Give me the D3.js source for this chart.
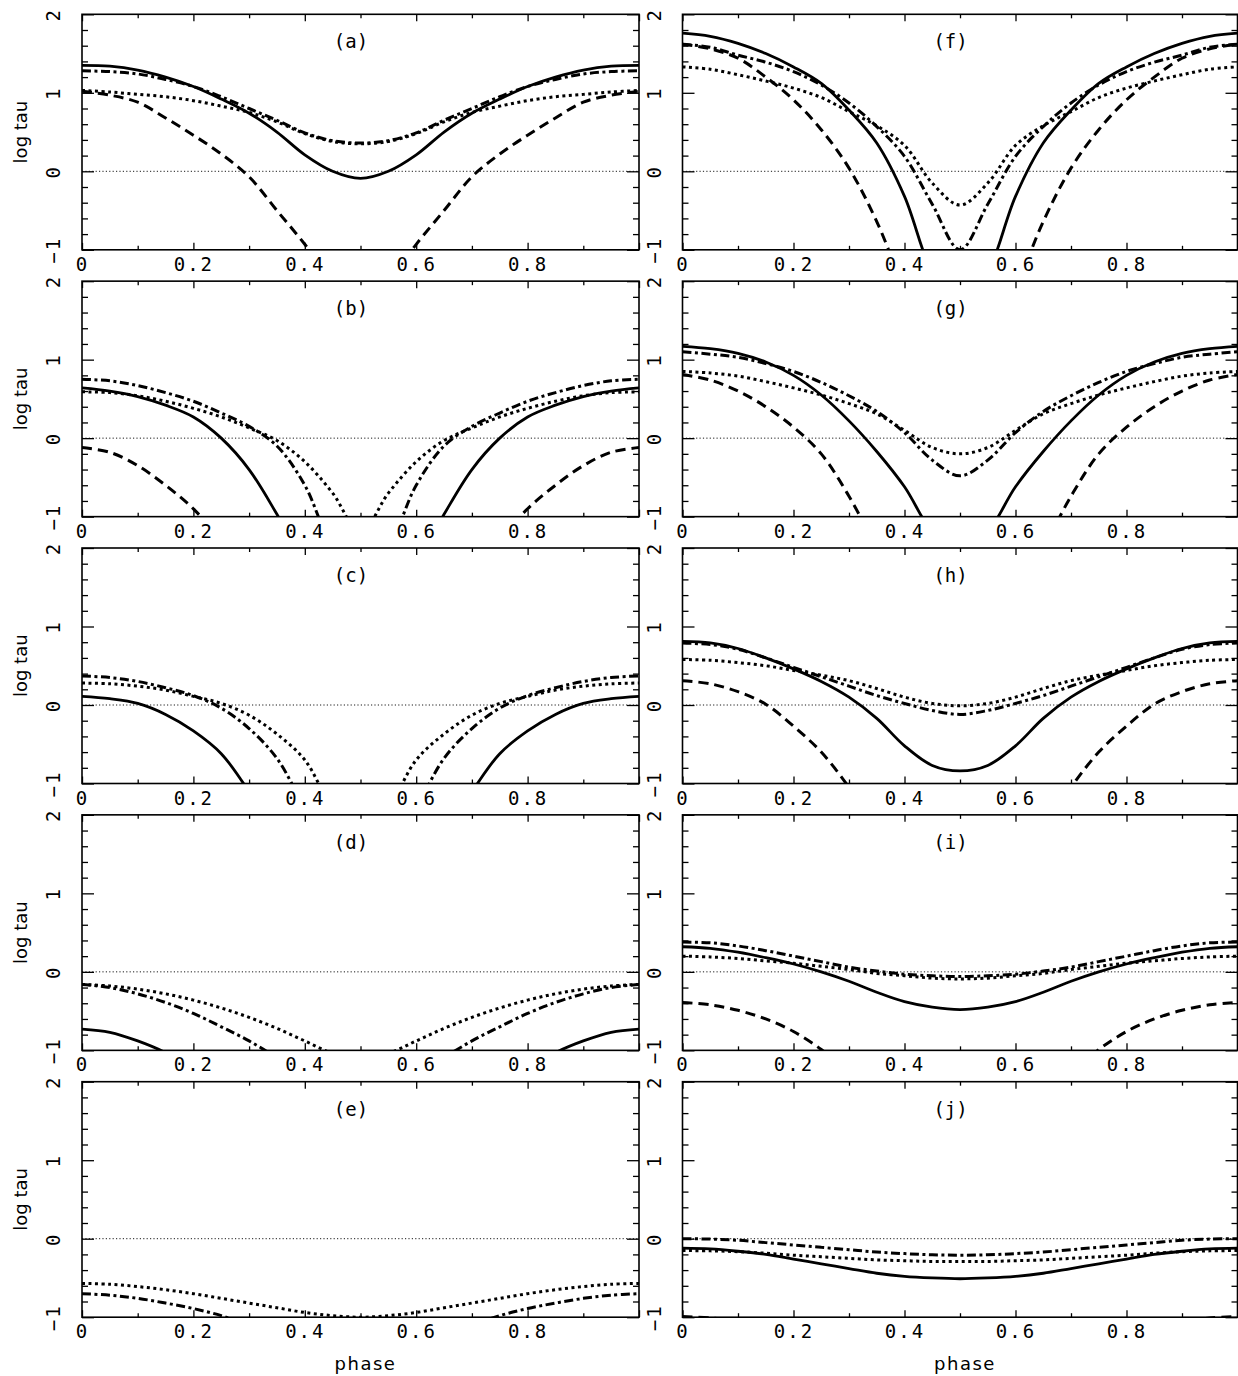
<!DOCTYPE html>
<html>
<head>
<meta charset="utf-8">
<script src="https://cdn.jsdelivr.net/npm/d3@7"></script>
<style>
  body { margin: 0; background: #fff; }
  svg { display: block; }
</style>
</head>
<body>
<svg id="canvas"></svg>
<script>
// phase grid shared by every curve
let phase = [0, 0.05, 0.1, 0.15, 0.2, 0.25, 0.3, 0.35, 0.4, 0.45, 0.5,
             0.55, 0.6, 0.65, 0.7, 0.75, 0.8, 0.85, 0.9, 0.95, 1];

// (a)
let a_solid   = [1.35, 1.34, 1.29, 1.2, 1.08, 0.92, 0.74, 0.5, 0.21, 0.0, -0.09, 0.0, 0.21, 0.5, 0.74, 0.92, 1.08, 1.2, 1.29, 1.34, 1.35];
let a_dash    = [1.02, 0.97, 0.88, 0.68, 0.46, 0.22, -0.07, -0.5, -0.93, -1.4, -1.6, -1.4, -0.93, -0.5, -0.07, 0.22, 0.46, 0.68, 0.88, 0.97, 1.02];
let a_dot     = [1.03, 1.01, 0.98, 0.95, 0.9, 0.83, 0.75, 0.63, 0.48, 0.38, 0.35, 0.38, 0.48, 0.63, 0.75, 0.83, 0.9, 0.95, 0.98, 1.01, 1.03];
let a_dashdot = [1.28, 1.27, 1.24, 1.17, 1.08, 0.95, 0.8, 0.65, 0.49, 0.39, 0.36, 0.39, 0.49, 0.65, 0.8, 0.95, 1.08, 1.17, 1.24, 1.27, 1.28];
// (b)
let b_solid   = [0.64, 0.6, 0.53, 0.42, 0.27, 0.0, -0.4, -0.97, -1.6, -2.2, -2.4, -2.2, -1.6, -0.97, -0.4, 0.0, 0.27, 0.42, 0.53, 0.6, 0.64];
let b_dash    = [-0.12, -0.18, -0.35, -0.6, -0.9, -1.3, -1.7, -2.0, -2.3, -2.5, -2.6, -2.5, -2.3, -2.0, -1.7, -1.3, -0.9, -0.6, -0.35, -0.18, -0.12];
let b_dot     = [0.59, 0.58, 0.54, 0.47, 0.38, 0.27, 0.13, -0.03, -0.3, -0.7, -1.2, -0.7, -0.3, -0.03, 0.13, 0.27, 0.38, 0.47, 0.54, 0.58, 0.59];
let b_dashdot = [0.75, 0.73, 0.67, 0.58, 0.47, 0.32, 0.15, -0.1, -0.6, -1.4, -1.8, -1.4, -0.6, -0.1, 0.15, 0.32, 0.47, 0.58, 0.67, 0.73, 0.75];
// (c)
let c_solid   = [0.11, 0.08, 0.02, -0.12, -0.33, -0.62, -1.1, -1.6, -2.0, -2.3, -2.4, -2.3, -2.0, -1.6, -1.1, -0.62, -0.33, -0.12, 0.02, 0.08, 0.11];
let c_dot     = [0.28, 0.27, 0.24, 0.19, 0.11, 0.02, -0.13, -0.37, -0.7, -1.3, -1.6, -1.3, -0.7, -0.37, -0.13, 0.02, 0.11, 0.19, 0.24, 0.27, 0.28];
let c_dashdot = [0.37, 0.35, 0.3, 0.22, 0.12, -0.04, -0.3, -0.68, -1.3, -1.8, -2.0, -1.8, -1.3, -0.68, -0.3, -0.04, 0.12, 0.22, 0.3, 0.35, 0.37];
// (d)
let d_solid   = [-0.73, -0.77, -0.88, -1.03, -1.25, -1.5, -1.7, -1.9, -2.0, -2.1, -2.1, -2.1, -2.0, -1.9, -1.7, -1.5, -1.25, -1.03, -0.88, -0.77, -0.73];
let d_dot     = [-0.16, -0.18, -0.22, -0.28, -0.36, -0.46, -0.58, -0.72, -0.88, -1.04, -1.12, -1.04, -0.88, -0.72, -0.58, -0.46, -0.36, -0.28, -0.22, -0.18, -0.16];
let d_dashdot = [-0.16, -0.2, -0.28, -0.39, -0.53, -0.7, -0.88, -1.1, -1.4, -1.6, -1.7, -1.6, -1.4, -1.1, -0.88, -0.7, -0.53, -0.39, -0.28, -0.2, -0.16];
// (e)
let e_dot     = [-0.57, -0.58, -0.61, -0.65, -0.7, -0.76, -0.82, -0.88, -0.94, -0.98, -1.0, -0.98, -0.94, -0.88, -0.82, -0.76, -0.7, -0.65, -0.61, -0.58, -0.57];
let e_dashdot = [-0.7, -0.72, -0.76, -0.82, -0.89, -0.98, -1.1, -1.2, -1.3, -1.35, -1.37, -1.35, -1.3, -1.2, -1.1, -0.98, -0.89, -0.82, -0.76, -0.72, -0.7];
// (f)
let f_solid   = [1.76, 1.72, 1.63, 1.5, 1.33, 1.12, 0.78, 0.36, -0.32, -1.3, -1.8, -1.3, -0.32, 0.36, 0.78, 1.12, 1.33, 1.5, 1.63, 1.72, 1.76];
let f_dash    = [1.62, 1.56, 1.44, 1.2, 0.91, 0.53, 0.04, -0.64, -1.5, -2.2, -2.5, -2.2, -1.5, -0.64, 0.04, 0.53, 0.91, 1.2, 1.44, 1.56, 1.62];
let f_dot     = [1.33, 1.3, 1.23, 1.15, 1.06, 0.94, 0.76, 0.58, 0.33, -0.15, -0.43, -0.15, 0.33, 0.58, 0.76, 0.94, 1.06, 1.15, 1.23, 1.3, 1.33];
let f_dashdot = [1.62, 1.58, 1.48, 1.39, 1.27, 1.1, 0.87, 0.57, 0.19, -0.42, -1.0, -0.42, 0.19, 0.57, 0.87, 1.1, 1.27, 1.39, 1.48, 1.58, 1.62];
// (g)
let g_solid   = [1.17, 1.14, 1.08, 0.97, 0.8, 0.55, 0.22, -0.17, -0.62, -1.2, -1.5, -1.2, -0.62, -0.17, 0.22, 0.55, 0.8, 0.97, 1.08, 1.14, 1.17];
let g_dash    = [0.81, 0.74, 0.6, 0.4, 0.14, -0.2, -0.74, -1.4, -2.0, -2.4, -2.6, -2.4, -2.0, -1.4, -0.74, -0.2, 0.14, 0.4, 0.6, 0.74, 0.81];
let g_dot     = [0.85, 0.83, 0.79, 0.72, 0.64, 0.55, 0.44, 0.31, 0.1, -0.12, -0.2, -0.12, 0.1, 0.31, 0.44, 0.55, 0.64, 0.72, 0.79, 0.83, 0.85];
let g_dashdot = [1.1, 1.07, 1.03, 0.95, 0.85, 0.71, 0.54, 0.34, 0.07, -0.28, -0.48, -0.28, 0.07, 0.34, 0.54, 0.71, 0.85, 0.95, 1.03, 1.07, 1.1];
// (h)
let h_solid   = [0.81, 0.79, 0.72, 0.6, 0.46, 0.3, 0.1, -0.17, -0.52, -0.77, -0.84, -0.77, -0.52, -0.17, 0.1, 0.3, 0.46, 0.6, 0.72, 0.79, 0.81];
let h_dash    = [0.31, 0.27, 0.17, 0.01, -0.27, -0.6, -1.05, -1.6, -2.1, -2.4, -2.5, -2.4, -2.1, -1.6, -1.05, -0.6, -0.27, 0.01, 0.17, 0.27, 0.31];
let h_dot     = [0.58, 0.57, 0.54, 0.5, 0.44, 0.38, 0.31, 0.21, 0.1, 0.02, -0.01, 0.02, 0.1, 0.21, 0.31, 0.38, 0.44, 0.5, 0.54, 0.57, 0.58];
let h_dashdot = [0.79, 0.77, 0.71, 0.6, 0.48, 0.36, 0.24, 0.12, 0.02, -0.07, -0.12, -0.07, 0.02, 0.12, 0.24, 0.36, 0.48, 0.6, 0.71, 0.77, 0.79];
// (i)
let i_solid   = [0.32, 0.3, 0.25, 0.18, 0.1, 0.0, -0.12, -0.26, -0.38, -0.45, -0.48, -0.45, -0.38, -0.26, -0.12, 0.0, 0.1, 0.18, 0.25, 0.3, 0.32];
let i_dash    = [-0.39, -0.42, -0.49, -0.6, -0.76, -0.99, -1.3, -1.6, -1.9, -2.1, -2.2, -2.1, -1.9, -1.6, -1.3, -0.99, -0.76, -0.6, -0.49, -0.42, -0.39];
let i_dot     = [0.2, 0.19, 0.17, 0.14, 0.11, 0.07, 0.03, -0.02, -0.05, -0.08, -0.09, -0.08, -0.05, -0.02, 0.03, 0.07, 0.11, 0.14, 0.17, 0.19, 0.2];
let i_dashdot = [0.38, 0.37, 0.33, 0.27, 0.2, 0.13, 0.06, 0.01, -0.03, -0.05, -0.06, -0.05, -0.03, 0.01, 0.06, 0.13, 0.2, 0.27, 0.33, 0.37, 0.38];
// (j)
let j_solid   = [-0.12, -0.13, -0.16, -0.2, -0.26, -0.32, -0.38, -0.44, -0.48, -0.5, -0.51, -0.5, -0.48, -0.44, -0.38, -0.32, -0.26, -0.2, -0.16, -0.13, -0.12];
let j_dash    = [-0.99, -1.01, -1.05, -1.1, -1.17, -1.24, -1.3, -1.35, -1.4, -1.42, -1.43, -1.42, -1.4, -1.35, -1.3, -1.24, -1.17, -1.1, -1.05, -1.01, -0.99];
let j_dot     = [-0.15, -0.155, -0.165, -0.185, -0.21, -0.23, -0.25, -0.27, -0.28, -0.29, -0.29, -0.29, -0.28, -0.27, -0.25, -0.23, -0.21, -0.185, -0.165, -0.155, -0.15];
let j_dashdot = [0.0, -0.005, -0.02, -0.05, -0.08, -0.11, -0.14, -0.17, -0.19, -0.205, -0.21, -0.205, -0.19, -0.17, -0.14, -0.11, -0.08, -0.05, -0.02, -0.005, 0.0];

let xMajor = [0, 0.2, 0.4, 0.6, 0.8, 1];
let xMinor = [0.1, 0.3, 0.5, 0.7, 0.9];
let yMajor = [-1, 0, 1, 2];
let yMinor = [-0.8, -0.6, -0.4, -0.2, 0.2, 0.4, 0.6, 0.8, 1.2, 1.4, 1.6, 1.8];

let panels = [
  { label: "(a)", col: 0, row: 0, lines: [["solid", a_solid], ["dashed", a_dash], ["dotted", a_dot], ["dashdot", a_dashdot]] },
  { label: "(b)", col: 0, row: 1, lines: [["solid", b_solid], ["dashed", b_dash], ["dotted", b_dot], ["dashdot", b_dashdot]] },
  { label: "(c)", col: 0, row: 2, lines: [["solid", c_solid], ["dotted", c_dot], ["dashdot", c_dashdot]] },
  { label: "(d)", col: 0, row: 3, lines: [["solid", d_solid], ["dotted", d_dot], ["dashdot", d_dashdot]] },
  { label: "(e)", col: 0, row: 4, lines: [["dotted", e_dot], ["dashdot", e_dashdot]] },
  { label: "(f)", col: 1, row: 0, lines: [["solid", f_solid], ["dashed", f_dash], ["dotted", f_dot], ["dashdot", f_dashdot]] },
  { label: "(g)", col: 1, row: 1, lines: [["solid", g_solid], ["dashed", g_dash], ["dotted", g_dot], ["dashdot", g_dashdot]] },
  { label: "(h)", col: 1, row: 2, lines: [["solid", h_solid], ["dashed", h_dash], ["dotted", h_dot], ["dashdot", h_dashdot]] },
  { label: "(i)", col: 1, row: 3, lines: [["solid", i_solid], ["dashed", i_dash], ["dotted", i_dot], ["dashdot", i_dashdot]] },
  { label: "(j)", col: 1, row: 4, lines: [["solid", j_solid], ["dashed", j_dash], ["dotted", j_dot], ["dashdot", j_dashdot]] }
];

let styles = {
  solid:   { width: 2.8, dash: null },
  dashed:  { width: 3, dash: "10 6" },
  dotted:  { width: 3, dash: "3 3.5" },
  dashdot: { width: 3, dash: "9 3.5 3 3.5" }
};

let width = 1238;
let height = 1376;
let colX = [82, 682.5];
let colW = [557, 555];
let top0 = 14.3;
let rowStep = 266.85;
let panelH = 235.5;

let monoFont = "'DejaVu Sans Mono', monospace";
let sansFont = "'DejaVu Sans', sans-serif";

let canvas = d3.select("#canvas").attr("width", width).attr("height", height);

let styleTicks = (g) => {
  g.select(".domain").remove();
  g.selectAll(".tick line").attr("stroke", "#000").attr("stroke-width", 1.3);
  g.selectAll("text")
    .attr("fill", "#000")
    .style("font-family", monoFont)
    .style("font-size", "19px")
    .style("letter-spacing", "2px");
};

let drawPanel = (p) => {
  let w = colW[p.col];
  let h = panelH;
  let g = canvas.append("g")
    .attr("transform", "translate(" + colX[p.col] + "," + (top0 + p.row * rowStep) + ")");

  let xScale = d3.scaleLinear().domain([0, 1]).range([0, w]);
  let yScale = d3.scaleLinear().domain([-1, 2]).range([h, 0]);

  let clipId = "clip-" + p.col + "-" + p.row;
  g.append("clipPath").attr("id", clipId)
    .append("rect").attr("width", w).attr("height", h);

  // thin dotted line at log tau = 0
  g.append("line")
    .attr("x1", xScale(0)).attr("x2", xScale(1))
    .attr("y1", yScale(0)).attr("y2", yScale(0))
    .attr("stroke", "#000").attr("stroke-width", 0.9)
    .attr("stroke-dasharray", "1.2 2.2");

  // ticks
  g.append("g").attr("transform", "translate(0," + h + ")")
    .call(d3.axisBottom(xScale).tickValues(xMajor).tickSize(-7)
      .tickFormat((d) => (d === 0 ? "0" : d === 1 ? "" : d.toFixed(1))))
    .call(styleTicks)
    .call((ax) => ax.selectAll("text").attr("y", 21).attr("dy", null));
  g.append("g").attr("transform", "translate(0," + h + ")")
    .call(d3.axisBottom(xScale).tickValues(xMinor).tickSize(-4).tickFormat(""))
    .call(styleTicks);
  g.append("g")
    .call(d3.axisTop(xScale).tickValues(xMajor).tickSize(-7).tickFormat(""))
    .call(styleTicks);
  g.append("g")
    .call(d3.axisTop(xScale).tickValues(xMinor).tickSize(-4).tickFormat(""))
    .call(styleTicks);

  g.append("g")
    .call(d3.axisLeft(yScale).tickValues(yMajor).tickSize(-12)
      .tickFormat((d) => (d < 0 ? "\u2212" + Math.abs(d) : d)))
    .call(styleTicks)
    .call((ax) => ax.selectAll("text")
      .attr("x", 0).attr("y", 0).attr("dy", null)
      .attr("text-anchor", "middle")
      .attr("transform", "translate(-22,0) rotate(-90)"));
  g.append("g")
    .call(d3.axisLeft(yScale).tickValues(yMinor).tickSize(-6).tickFormat(""))
    .call(styleTicks);
  g.append("g").attr("transform", "translate(" + w + ",0)")
    .call(d3.axisRight(yScale).tickValues(yMajor).tickSize(-12).tickFormat(""))
    .call(styleTicks);
  g.append("g").attr("transform", "translate(" + w + ",0)")
    .call(d3.axisRight(yScale).tickValues(yMinor).tickSize(-6).tickFormat(""))
    .call(styleTicks);

  // curves
  let line = d3.line()
    .x((d) => xScale(d[0]))
    .y((d) => yScale(d[1]))
    .curve(d3.curveCatmullRom.alpha(0.5));

  let curves = g.append("g").attr("clip-path", "url(#" + clipId + ")");
  p.lines.forEach(([kind, vals]) => {
    let s = styles[kind];
    curves.append("path")
      .datum(phase.map((ph, i) => [ph, vals[i]]))
      .attr("d", line)
      .attr("fill", "none")
      .attr("stroke", "#000")
      .attr("stroke-width", s.width)
      .attr("stroke-dasharray", s.dash);
  });

  // frame
  g.append("rect")
    .attr("width", w).attr("height", h)
    .attr("fill", "none").attr("stroke", "#000").attr("stroke-width", 1.6);

  // panel label
  g.append("text")
    .attr("x", xScale(0.483)).attr("y", 34)
    .attr("text-anchor", "middle")
    .style("font-family", monoFont).style("font-size", "19px")
    .text(p.label);

  if (p.col === 0) {
    g.append("text")
      .attr("text-anchor", "middle")
      .attr("transform", "translate(-55," + h / 2 + ") rotate(-90)")
      .style("font-family", sansFont).style("font-size", "18px")
      .text("log tau");
  }
  if (p.row === 4) {
    g.append("text")
      .attr("x", xScale(0.5) + 5).attr("y", h + 53)
      .attr("text-anchor", "middle")
      .style("font-family", sansFont).style("font-size", "18px")
      .style("letter-spacing", "1.5px")
      .text("phase");
  }
};

panels.forEach(drawPanel);
</script>
</body>
</html>
